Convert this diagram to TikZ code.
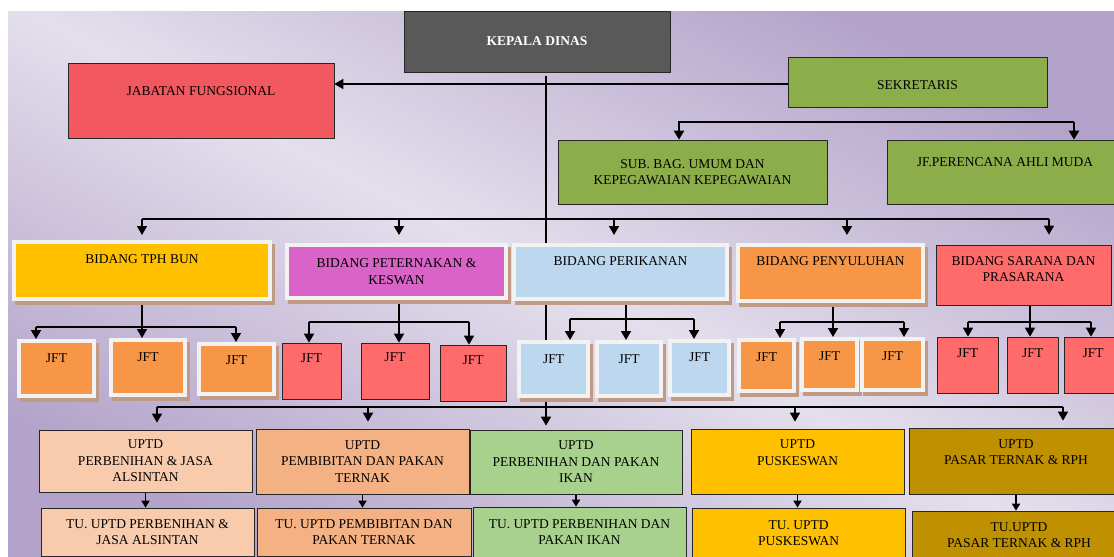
\documentclass[tikz,border=0pt]{standalone}
\usepackage{fontspec}
\setmainfont{Liberation Serif}
\usetikzlibrary{arrows.meta,calc}
\definecolor{bgdark}{HTML}{B3A3CA}
\definecolor{bglight}{HTML}{E4DFEC}
\definecolor{edgec}{HTML}{262626}
\definecolor{kdc}{HTML}{595959}
\definecolor{jfc}{HTML}{F2585F}
\definecolor{sekc}{HTML}{8CAE4A}
\definecolor{tphc}{HTML}{FFC000}
\definecolor{ternakc}{HTML}{DA63C8}
\definecolor{ikanc}{HTML}{BDD7EE}
\definecolor{suluhc}{HTML}{F79646}
\definecolor{saranac}{HTML}{FF6B6B}
\definecolor{u1c}{HTML}{F8CBAD}
\definecolor{u2c}{HTML}{F4B183}
\definecolor{u3c}{HTML}{A9D18E}
\definecolor{u5c}{HTML}{BF9000}
\definecolor{framec}{HTML}{F2F2F2}
\definecolor{shadowc}{HTML}{C09A84}
\pgfdeclarelayer{back}
\pgfdeclarelayer{wires}
\pgfsetlayers{back,wires,main}
\tikzset{
  plainbox/.style={draw=edgec, line width=0.7pt, fill=#1, inner sep=0pt, align=center,
    font=\fontsize{13.5}{16.5}\selectfont},
  shadowbox/.style={draw=framec, line width=4pt, fill=#1, inner sep=0pt, align=center,
    font=\fontsize{13.5}{16.5}\selectfont,
    preaction={draw=shadowc, fill=shadowc, line width=4pt, transform canvas={xshift=3pt,yshift=-4pt}}},
  wh/.style 2 args={minimum width=#1pt, minimum height=#2pt},
  arr/.style={-{Triangle[length=9pt,width=10pt]}, line width=1.6pt},
  bus/.style={line width=2pt},
}
\begin{document}
\begin{tikzpicture}[x=1pt, y=-1pt]
\useasboundingbox (0,0) rectangle (1114,557);
\begin{pgfonlayer}{back}
\fill[white] (0,0) rectangle (1114,557);
\shade[top color=bgdark, bottom color=bgdark, middle color=bglight, shading angle=-27] (8,11) rectangle (1114,557);
\end{pgfonlayer}

\node[plainbox=kdc, wh={266}{61}, text=white, font=\fontsize{13.5}{16.5}\selectfont\bfseries] (1) at (537,41.5) {KEPALA DINAS};
\node[plainbox=jfc, wh={266}{75}, text depth=19pt] (2) at (201,100.5) {JABATAN FUNGSIONAL};
\node[plainbox=sekc, wh={259}{50}, text height=15pt] (3) at (917.5,82) {SEKRETARIS};
\node[plainbox=sekc, wh={269}{64}] (4) at (692.5,172) {SUB. BAG. UMUM DAN\\KEPEGAWAIAN KEPEGAWAIAN};
\node[plainbox=sekc, wh={236}{64}, text depth=20pt] (5) at (1005,172) {JF.PERENCANA AHLI MUDA};

\node[shadowbox=tphc, wh={255.5}{57}, text depth=23pt] (6) at (142,270.5) {BIDANG TPH BUN};
\node[shadowbox=ternakc, wh={219}{53}] (7) at (396.5,271.5) {BIDANG PETERNAKAN \&\\KESWAN};
\node[shadowbox=ikanc, wh={213}{54}, text depth=22pt] (8) at (620.5,272) {BIDANG PERIKANAN};
\node[shadowbox=suluhc, wh={185}{56}, text depth=24pt] (9) at (830.5,273) {BIDANG PENYULUHAN};
\node[plainbox=saranac, wh={175}{60}, text depth=12pt] (10) at (1023.5,275) {BIDANG SARANA DAN\\PRASARANA};

\node[shadowbox=suluhc, wh={75}{55}, text depth=21pt] (j6a) at (56.5,368.5) {JFT};
\node[shadowbox=suluhc, wh={74}{55}, text depth=21pt] (j6b) at (148,367.5) {JFT};
\node[shadowbox=suluhc, wh={75}{50}, text depth=18pt] (j6c) at (236.5,369) {JFT};
\node[plainbox=saranac, wh={59}{56}, text depth=26pt] (j7a) at (311.5,371) {JFT};
\node[plainbox=saranac, wh={68}{56}, text depth=28pt] (j7b) at (395,371) {JFT};
\node[plainbox=saranac, wh={66}{56}, text depth=26pt] (j7c) at (473,373) {JFT};
\node[shadowbox=ikanc, wh={69}{54}, text depth=20pt] (j8a) at (553.5,369) {JFT};
\node[shadowbox=ikanc, wh={64}{54}, text depth=20pt] (j8b) at (629,369) {JFT};
\node[shadowbox=ikanc, wh={59}{54}, text depth=22pt] (j8c) at (699.5,368) {JFT};
\node[shadowbox=suluhc, wh={55}{51}, text depth=17pt] (j9a) at (766.5,365.5) {JFT};
\node[shadowbox=suluhc, wh={55}{51}, text depth=17pt] (j9b) at (829.5,364.5) {JFT};
\node[shadowbox=suluhc, wh={61}{51}, text depth=17pt] (j9c) at (892.5,364.5) {JFT};
\node[plainbox=saranac, wh={61}{56}, text depth=24pt] (j10a) at (967.5,365) {JFT};
\node[plainbox=saranac, wh={51}{56}, text depth=24pt] (j10b) at (1032.5,365) {JFT};
\node[plainbox=saranac, wh={58}{56}, text depth=24pt] (j10c) at (1093,365) {JFT};

\node[plainbox=u1c, wh={213}{62}] (11) at (145.5,461) {UPTD\\PERBENIHAN \& JASA\\ALSINTAN};
\node[plainbox=u2c, wh={213}{65}] (12) at (362.5,461.5) {UPTD\\PEMBIBITAN DAN PAKAN\\TERNAK};
\node[plainbox=u3c, wh={212}{64}] (13) at (576,462) {UPTD\\PERBENIHAN DAN PAKAN\\IKAN};
\node[plainbox=tphc, wh={213}{65}, text depth=18pt] (14) at (797.5,461.5) {UPTD\\PUSKESWAN};
\node[plainbox=u5c, wh={214}{66}, text depth=18pt] (15) at (1016,461) {UPTD\\PASAR TERNAK \& RPH};
\node[plainbox=u1c, wh={213}{48}] (u11) at (147.5,532) {TU. UPTD PERBENIHAN \&\\JASA ALSINTAN};
\node[plainbox=u2c, wh={214}{48}] (u12) at (364,532) {TU. UPTD PEMBIBITAN DAN\\PAKAN TERNAK};
\node[plainbox=u3c, wh={213}{50}] (u13) at (579.5,532) {TU. UPTD PERBENIHAN DAN\\PAKAN IKAN};
\node[plainbox=tphc, wh={213}{50}] (u14) at (798.5,533) {TU. UPTD\\PUSKESWAN};
\node[plainbox=u5c, wh={214}{48}] (u15) at (1019,535) {TU.UPTD\\PASAR TERNAK \& RPH};

\begin{pgfonlayer}{wires}
\coordinate (c0) at (546,76);
\coordinate (c1) at (546,84);
\coordinate (c2) at (546,219);
\coordinate (c3) at (546,407);
\coordinate (s1) at (679,122);
\coordinate (s2) at (1074,122);
\draw[arr, shorten >=4pt] (c0) -- (c0 |- 13.north);
\draw[arr, {Triangle[length=9pt,width=10pt]}-] (c1 -| 2.east) -- (c1 -| 3.west);
\draw[arr, line width=2.2pt] (s2) -- (s1) -- (s1 |- 4.north);
\draw[arr, line width=2.2pt] (s2) -- (s2 |- 5.north);
\draw[bus] (6.north |- c2) -- ($(10.north |- c2)+(25.5,0)$);
\foreach \n/\dx/\g in {6/0/5,7/2.5/8,8/-6.5/8,9/16.5/8,10/25.5/10}
  \draw[arr, shorten >=\g pt] ($(\n.north |- c2)+(\dx,0)$) -- ($(\n.north)+(\dx,0)$);
\foreach \n/\xa/\xb/\xc/\y in {6/-20.5/-6/-0.5/327, 7/-2.5/4/-4/322, 8/16.5/-3/-5.5/319, 9/13.5/3.5/11.5/322, 10/0.5/-2.5/-2/322} {
  \coordinate (y\n) at (0,\y);
  \draw[arr] ($(j\n b.north |- \n.south)+(\xb,0)$) -- ($(j\n b.north)+(\xb,0)$);
  \draw[bus, line width=2.6pt] ($(j\n a.north |- y\n)+(\xa,0)$) -- ($(j\n c.north |- y\n)+(\xc,0)$);
  \draw[arr] ($(j\n a.north |- y\n)+(\xa,0)$) -- ($(j\n a.north)+(\xa,0)$);
  \draw[arr] ($(j\n c.north |- y\n)+(\xc,0)$) -- ($(j\n c.north)+(\xc,0)$);
}
\draw[bus] ($(11.north |- c3)+(11.5,0)$) -- ($(15.north |- c3)+(47,0)$);
\foreach \n/\dx in {11/11.5,12/5.5,14/-2.5,15/47}
  \draw[arr, shorten >=7pt] ($(\n.north |- c3)+(\dx,0)$) -- ($(\n.north)+(\dx,0)$);
\foreach \n in {11,...,15}
  \draw[arr, -{Triangle[length=7pt,width=8pt]}, line width=1.8pt] (\n.south) -- (\n.south |- u\n.north);
\end{pgfonlayer}
\end{tikzpicture}
\end{document}
